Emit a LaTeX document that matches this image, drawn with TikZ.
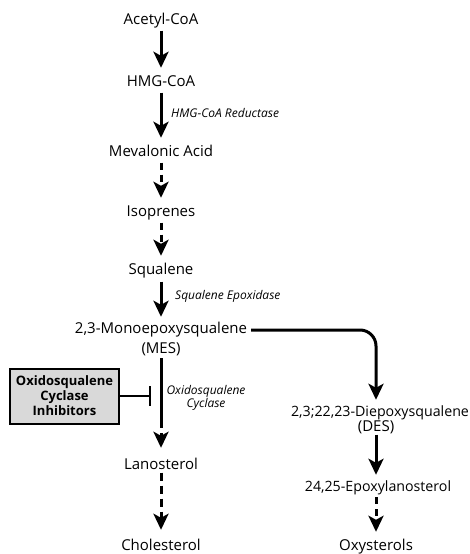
\documentclass[tikz,border=0pt]{standalone}
\usepackage{fontspec}
\setmainfont{Open Sans}
\usetikzlibrary{arrows.meta}
\tikzset{
  lbl/.style={font=\fontsize{15}{17}\selectfont, inner sep=0pt, text height=10pt, text depth=3pt},
  lbls/.style={lbl, font=\fontsize{14.2}{17}\selectfont},
  enz/.style={font=\fontsize{12}{14}\selectfont\itshape, inner sep=0pt},
  arr/.style={line width=3pt, -{Stealth[length=16pt,width=15pt,inset=4pt]}, shorten <=3pt, shorten >=8.5pt},
  dsh/.style={dash pattern=on 7pt off 5pt},
  inhib/.style={draw, line width=2pt, fill=black!15, inner sep=3pt, align=center,
    font=\fontsize{13}{15}\selectfont\bfseries, minimum width=109pt, minimum height=55pt}
}
\begin{document}
\begin{tikzpicture}[x=1pt,y=-1pt]
\useasboundingbox (0,0) rectangle (470,554);
% main column
\node[lbl] (acetyl) at (161,21) {Acetyl-CoA};
\node[lbl] (hmg) at (161,83) {HMG-CoA};
\node[lbl] (mev) at (161,153) {Mevalonic Acid};
\node[lbl] (iso) at (161,213) {Isoprenes};
\node[lbl] (squ) at (161,271) {Squalene};
\node[lbl] (mes1) at (161,330) {2,3-Monoepoxysqualene};
\node[lbl] (mes2) at (161,350) {(MES)};
\node[lbl] (lan) at (161,466) {Lanosterol};
\node[lbl] (chol) at (161,547) {Cholesterol};
% right column
\node[lbls] (des1) at (380,413) {2,3;22,23-Diepoxysqualene};
\node[lbl] (des2) at (376,428) {(DES)};
\node[lbls] (epox) at (378,488) {24,25-Epoxylanosterol};
\node[lbl] (oxy) at (376,547) {Oxysterols};
% enzyme labels
\node[enz, anchor=west] (hmgr) at (171,113) {HMG-CoA Reductase};
\node[enz, anchor=west] (sqe) at (175,296) {Squalene Epoxidase};
\node[enz] (osc1) at (206,391) {Oxidosqualene};
\node[enz] (osc2) at (206,404) {Cyclase};
% inhibitor box
\node[inhib] (box) at (64.5,396) {Oxidosqualene\\Cyclase\\Inhibitors};
\coordinate (tbar) at (151,396);
\coordinate (mid) at (161,415);
\coordinate (turn) at (376,330);
% arrows
\draw[arr] (acetyl) -- (hmg);
\draw[arr] (hmg) -- (mev);
\draw[arr,dsh] (mev) -- (iso);
\draw[arr,dsh] (iso) -- (squ);
\draw[arr, shorten <=4pt, shorten >=6.5pt] (squ) -- (mes1);
\draw[line width=3pt, shorten <=1.5pt] (mes2.south) -- (mid);
\draw[arr, dash pattern=on 13pt off 5pt, shorten <=0pt, shorten >=11.5pt] (mid) -- (lan.north);
\draw[arr, dash pattern=on 8pt off 5pt, shorten <=0pt, shorten >=10.5pt] (lan) -- (chol);
\draw[arr, rounded corners=16pt, shorten <=4pt, shorten >=6.5pt] (mes1.east) -- (turn) -- (turn |- des1.north);
\draw[arr, shorten <=0pt, shorten >=6.5pt] (des2.south -| turn) -- (turn |- epox.north);
\draw[arr, dsh, shorten <=2.5pt, shorten >=8.5pt] (turn |- epox.south) -- (turn |- oxy.north);
\draw[line width=2pt, -{Bar[width=20pt,line width=2.5pt]}] (box.east) -- (tbar);
\end{tikzpicture}
\end{document}
